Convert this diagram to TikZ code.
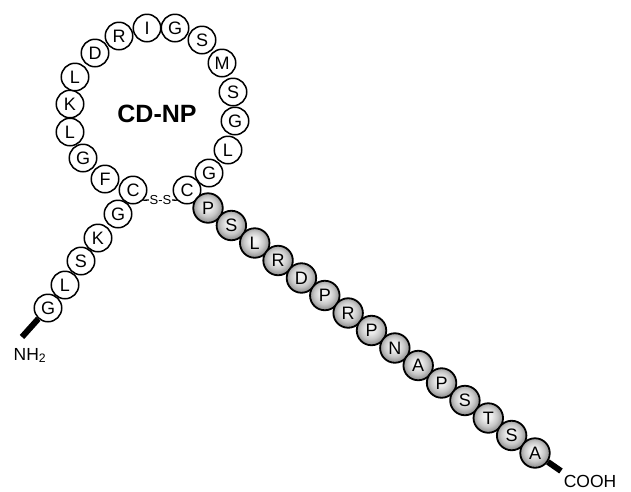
\documentclass[tikz,border=0pt]{standalone}
\usepackage{fontspec}
\setmainfont{Liberation Sans}
\pgfdeclareradialshading{gball}{\pgfpoint{-2bp}{4bp}}{color(0bp)=(black!2); color(8bp)=(black!8); color(17bp)=(black!22); color(25bp)=(black!42); color(50bp)=(black!42)}
\tikzset{
  wres/.style={circle, draw, line width=1.5pt, fill=white, minimum size=27.5pt, inner sep=0pt, font=\fontsize{18}{18}\selectfont},
  gres/.style={circle, draw, line width=1.8pt, minimum size=29.5pt, inner sep=0pt, shading=gball, font=\fontsize{18}{18}\selectfont},
  bond/.style={line width=1.3pt},
  stub/.style={line width=6pt, line cap=butt},
  endlabel/.style={font=\fontsize{17.5}{17.5}\selectfont, inner sep=0pt}
}
\begin{document}
\begin{tikzpicture}[x=1pt,y=-1pt]
\useasboundingbox (0,0) rectangle (631,491);
% ring
\node[wres] (r1) at (133,190) {C};
\node[wres] (r2) at (105,179) {F};
\node[wres] (r3) at (83,158) {G};
\node[wres] (r4) at (70,132) {L};
\node[wres] (r5) at (70,104) {K};
\node[wres] (r6) at (75,77) {L};
\node[wres] (r7) at (95,53) {D};
\node[wres] (r8) at (119,36) {R};
\node[wres] (r9) at (147,28) {I};
\node[wres] (r10) at (175,28) {G};
\node[wres] (r11) at (202,40) {S};
\node[wres] (r12) at (222,63) {M};
\node[wres] (r13) at (233,92) {S};
\node[wres] (r14) at (235,121) {G};
\node[wres] (r15) at (228,150) {L};
\node[wres] (r16) at (209,173) {G};
\node[wres] (r17) at (187,190) {C};
% N-terminal tail
\node[wres] (t1) at (118,214) {G};
\node[wres] (t2) at (98,238) {K};
\node[wres] (t3) at (81,261) {S};
\node[wres] (t4) at (65,285) {L};
\node[wres] (t5) at (48,308) {G};
% title
\node[font=\fontsize{25}{25}\selectfont\bfseries] (title) at (157,114) {CD-NP};
% disulfide bond
\node[font=\fontsize{13}{13}\selectfont, inner sep=0.5pt] (ss) at (160.5,200) {S-S};
\draw[bond] (r1.-45) -- (ss.west);
\draw[bond] (ss.east) -- (r17.-135);
% C-terminal tail
\foreach \l [count=\i from 0] in {P,S,L,R,D,P,R,P,N,A,P,S,T,S,A}
  \node[gres] (g\i) at ({208+23.357*\i},{208+17.5*\i}) {\l};
% termini
\coordinate (nend) at (22,337);
\draw[stub] (t5) -- (nend);
\node[endlabel, anchor=base] (nh2) at (30,360) {NH\textsubscript{2}};
\coordinate (cend) at (561,471);
\draw[stub] (g14) -- (cend);
\node[endlabel, anchor=base] (cooh) at (590,487) {COOH};
\end{tikzpicture}
\end{document}
